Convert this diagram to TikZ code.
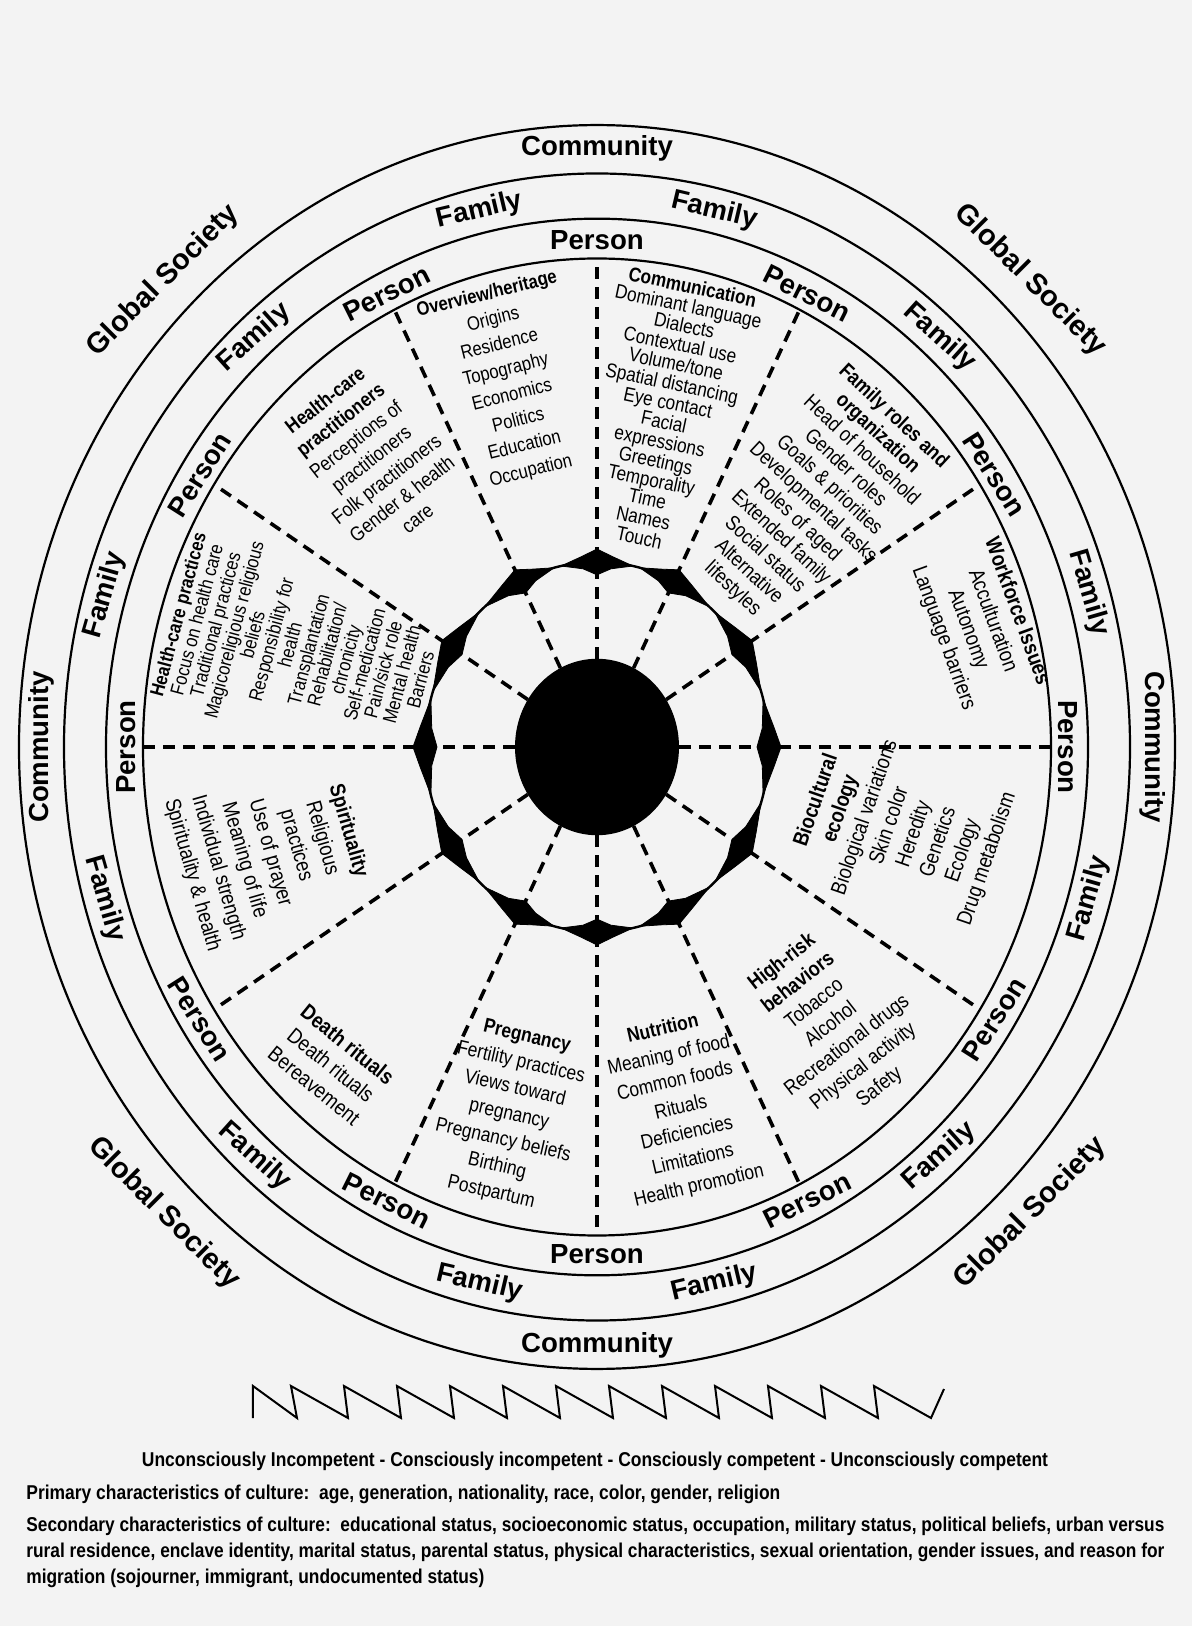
\documentclass[tikz,border=0pt]{standalone}
\usepackage{fontspec}
\usepackage{graphicx}
\setmainfont{Liberation Sans}
\newfontfamily\ringf{Liberation Sans}
\newfontfamily\sectf{Liberation Sans}[FakeStretch=0.86]
\usetikzlibrary{arrows.meta}
\definecolor{paper}{RGB}{243,243,243}
\newcommand\dfont[2]{\sectf\fontsize{#1}{#2}\selectfont\lineskiplimit=-8pt\relax}
\begin{document}
\begin{tikzpicture}[x=0.5pt,y=0.5pt,
  ring/.style={line width=1.1pt},
  divider/.style={line width=1.8pt, dash pattern=on 6pt off 4pt},
  ringlabel/.style={font=\ringf\bfseries\fontsize{13.8}{15}\selectfont, inner sep=0pt},
  globallabel/.style={font=\ringf\bfseries\fontsize{14.5}{16}\selectfont, inner sep=0pt},
  domaintext/.style={align=center, inner sep=0pt},
  cyclehead/.style={fill=black, draw=black, line width=0.4pt, line join=miter},
  cycleline/.style={line width=1.2pt},
  zig/.style={line width=1pt, line join=miter},
  foot/.style={font=\ringf\bfseries\fontsize{10}{12}\selectfont, inner sep=0pt}
]
\fill[paper] (-597,-879) rectangle (595,747);
\useasboundingbox (-597,-879) rectangle (595,747);

\begin{scope}[yscale=1.076]
  \draw[ring] (0,0) circle[radius=578];
  \draw[ring] (0,0) circle[radius=533];
  \draw[ring] (0,0) circle[radius=491];
  \draw[ring] (0,0) circle[radius=454];
  \fill (0,0) circle[radius=82];
  \foreach \a in {0,32.5,63.5,90,116.5,147.5,180,212.5,243.5,270,296.5,327.5}
    \draw[divider] (\a:82) -- (\a:454);
  % cycle ring with double arrowheads (base to base) on each divider
  \draw[cycleline] (0,0) circle[radius=172];
  \foreach \p/\a/\b in {0/15.05/15.05, 32.5/15.05/14.3, 63.5/14.3/12.05, 90/12.05/12.05,
      116.5/12.05/14.3, 147.5/14.3/15.05, 180/15.05/15.05, 212.5/15.05/14.3,
      243.5/14.3/12.05, 270/12.05/12.05, 296.5/12.05/14.3, 327.5/14.3/15.05}
    \filldraw[cyclehead] ({\p-\a}:172) -- ({\p-0.4*\a}:177.8) -- (\p:184)
      -- ({\p+0.4*\b}:177.8) -- ({\p+\b}:172) -- ({\p+0.4*\b}:166.2)
      -- (\p:160) -- ({\p-0.4*\a}:166.2) -- cycle;

  % Person ring
  \foreach \t [count=\i] in {0,32.5,63.5,90,116.5,147.5,180}
    \node[ringlabel, rotate=\t-90] (personU\i) at (\t:471) {Person};
  \foreach \t [count=\i] in {212.5,243.5,270,296.5,327.5}
    \node[ringlabel, rotate=\t+90] (personL\i) at (\t:471) {Person};
  % Family ring
  \foreach \t [count=\i] in {16.25,48,76.75,103.25,132,164}
    \node[ringlabel, rotate=\t-90] (familyU\i) at (\t:512) {Family};
  \foreach \t [count=\i] in {196,228,256.75,283.25,312,344}
    \node[ringlabel, rotate=\t+90] (familyL\i) at (\t:512) {Family};
  % Community ring
  \node[ringlabel] (commT) at (90:556) {Community};
  \node[ringlabel] (commB) at (270:556) {Community};
  \node[ringlabel, rotate=90] (commL) at (180:556) {Community};
  \node[ringlabel, rotate=-90] (commR) at (0:556) {Community};
  % Global society
  \node[globallabel, rotate=-45] (globTR) at (45:613) {Global Society};
  \node[globallabel, rotate=45] (globTL) at (135:613) {Global Society};
  \node[globallabel, rotate=-45] (globBL) at (225:613) {Global Society};
  \node[globallabel, rotate=45] (globBR) at (315:613) {Global Society};
\end{scope}

% Domains
\node[domaintext, rotate=14, font={\dfont{9.7}{13}}] (overview) at (-88,364)
  {\textbf{Overview/heritage}\\Origins\\Residence\\Topography\\Economics\\Politics\\Education\\Occupation};
\node[domaintext, rotate=-12, font={\dfont{10}{9.85}}] (communication) at (69,335)
  {\textbf{Communication}\\Dominant language\\Dialects\\Contextual use\\Volume/tone\\Spatial distancing\\Eye contact\\Facial\\expressions\\Greetings\\Temporality\\Time\\Names\\Touch};
\node[domaintext, rotate=-43, font={\dfont{10.4}{11.8}}] (familyroles) at (216,244)
  {\textbf{Family roles and}\\\textbf{organization}\\Head of household\\Gender roles\\Goals \& priorities\\Developmental tasks\\Roles of aged\\Extended family\\Social status\\Alternative\\lifestyles};
\node[domaintext, rotate=-70, font={\dfont{10.8}{13}}] (workforce) at (383,122)
  {\textbf{Workforce Issues}\\Acculturation\\Autonomy\\Language barriers};
\node[domaintext, rotate=71, font={\dfont{10.7}{12.9}}] (biocultural) at (305,-83)
  {\textbf{Biocultural}\\\textbf{ecology}\\Biological variations\\Skin color\\Heredity\\Genetics\\Ecology\\Drug metabolism};
\node[domaintext, rotate=38, font={\dfont{10.5}{13.2}}] (highrisk) at (234,-278)
  {\textbf{High-risk}\\\textbf{behaviors}\\Tobacco\\Alcohol\\Recreational drugs\\Physical activity\\Safety};
\node[domaintext, rotate=13, font={\dfont{10.1}{13.4}}] (nutrition) at (84,-361)
  {\textbf{Nutrition}\\Meaning of food\\Common foods\\Rituals\\Deficiencies\\Limitations\\Health promotion};
\node[domaintext, rotate=-13, font={\dfont{10.1}{13.3}}] (pregnancy) at (-88,-368)
  {\textbf{Pregnancy}\\Fertility practices\\Views toward\\pregnancy\\Pregnancy beliefs\\Birthing\\Postpartum};
\node[domaintext, rotate=-39, font={\dfont{10.8}{13.3}}] (death) at (-266,-318)
  {\textbf{Death rituals}\\Death rituals\\Bereavement};
\node[domaintext, rotate=-74, font={\dfont{10.7}{13.5}}] (spirituality) at (-327,-106)
  {\textbf{Spirituality}\\Religious\\practices\\Use of prayer\\Meaning of life\\Individual strength\\Spirituality \& health};
\node[domaintext, rotate=75, font={\dfont{9.7}{9.65}}] (hcpractices) at (-298,100)
  {\textbf{Health-care practices}\\Focus on health care\\Traditional practices\\Magicoreligious religious\\beliefs\\Responsibility for\\health\\Transplantation\\Rehabilitation/\\chronicity\\Self-medication\\Pain/sick role\\Mental health\\Barriers};
\node[domaintext, rotate=38, font={\dfont{10.1}{12.5}}] (hcpractitioners) at (-226,288)
  {\textbf{Health-care}\\\textbf{practitioners}\\Perceptions of\\practitioners\\Folk practitioners\\Gender \& health\\care};

% Zigzag
\draw[zig] (-344,-671) -- (-344,-639) -- (-300,-671) -- (-306,-639)
  -- (-249,-671) -- (-253,-639) -- (-196,-671) -- (-200,-639)
  -- (-143,-671) -- (-147,-639) -- (-90,-671) -- (-94,-639)
  -- (-37,-671) -- (-41,-639) -- (16,-671) -- (12,-639)
  -- (69,-671) -- (65,-639) -- (122,-671) -- (118,-639)
  -- (175,-671) -- (171,-639) -- (228,-671) -- (224,-639)
  -- (281,-671) -- (277,-639) -- (334,-671) -- (347,-642);

% Footer
\node[foot, anchor=base] (levels) at (-2,-719)
  {\resizebox{453pt}{\height}{Unconsciously Incompetent - Consciously incompetent - Consciously competent - Unconsciously competent}};
\node[foot, anchor=base west] (primary) at (-571,-752)
  {\resizebox{377pt}{\height}{Primary characteristics of culture:\ \ age, generation, nationality, race, color, gender, religion}};
\node[foot, anchor=base west] (secondary1) at (-571,-784)
  {\resizebox{569pt}{\height}{Secondary characteristics of culture:\ \ educational status, socioeconomic status, occupation, military status, political beliefs, urban versus}};
\node[foot, anchor=base west] (secondary2) at (-571,-810)
  {\resizebox{569pt}{\height}{rural residence, enclave identity, marital status, parental status, physical characteristics, sexual orientation, gender issues, and reason for}};
\node[foot, anchor=base west] (secondary3) at (-571,-836)
  {\resizebox{229pt}{\height}{migration (sojourner, immigrant, undocumented status)}};
\end{tikzpicture}
\end{document}
